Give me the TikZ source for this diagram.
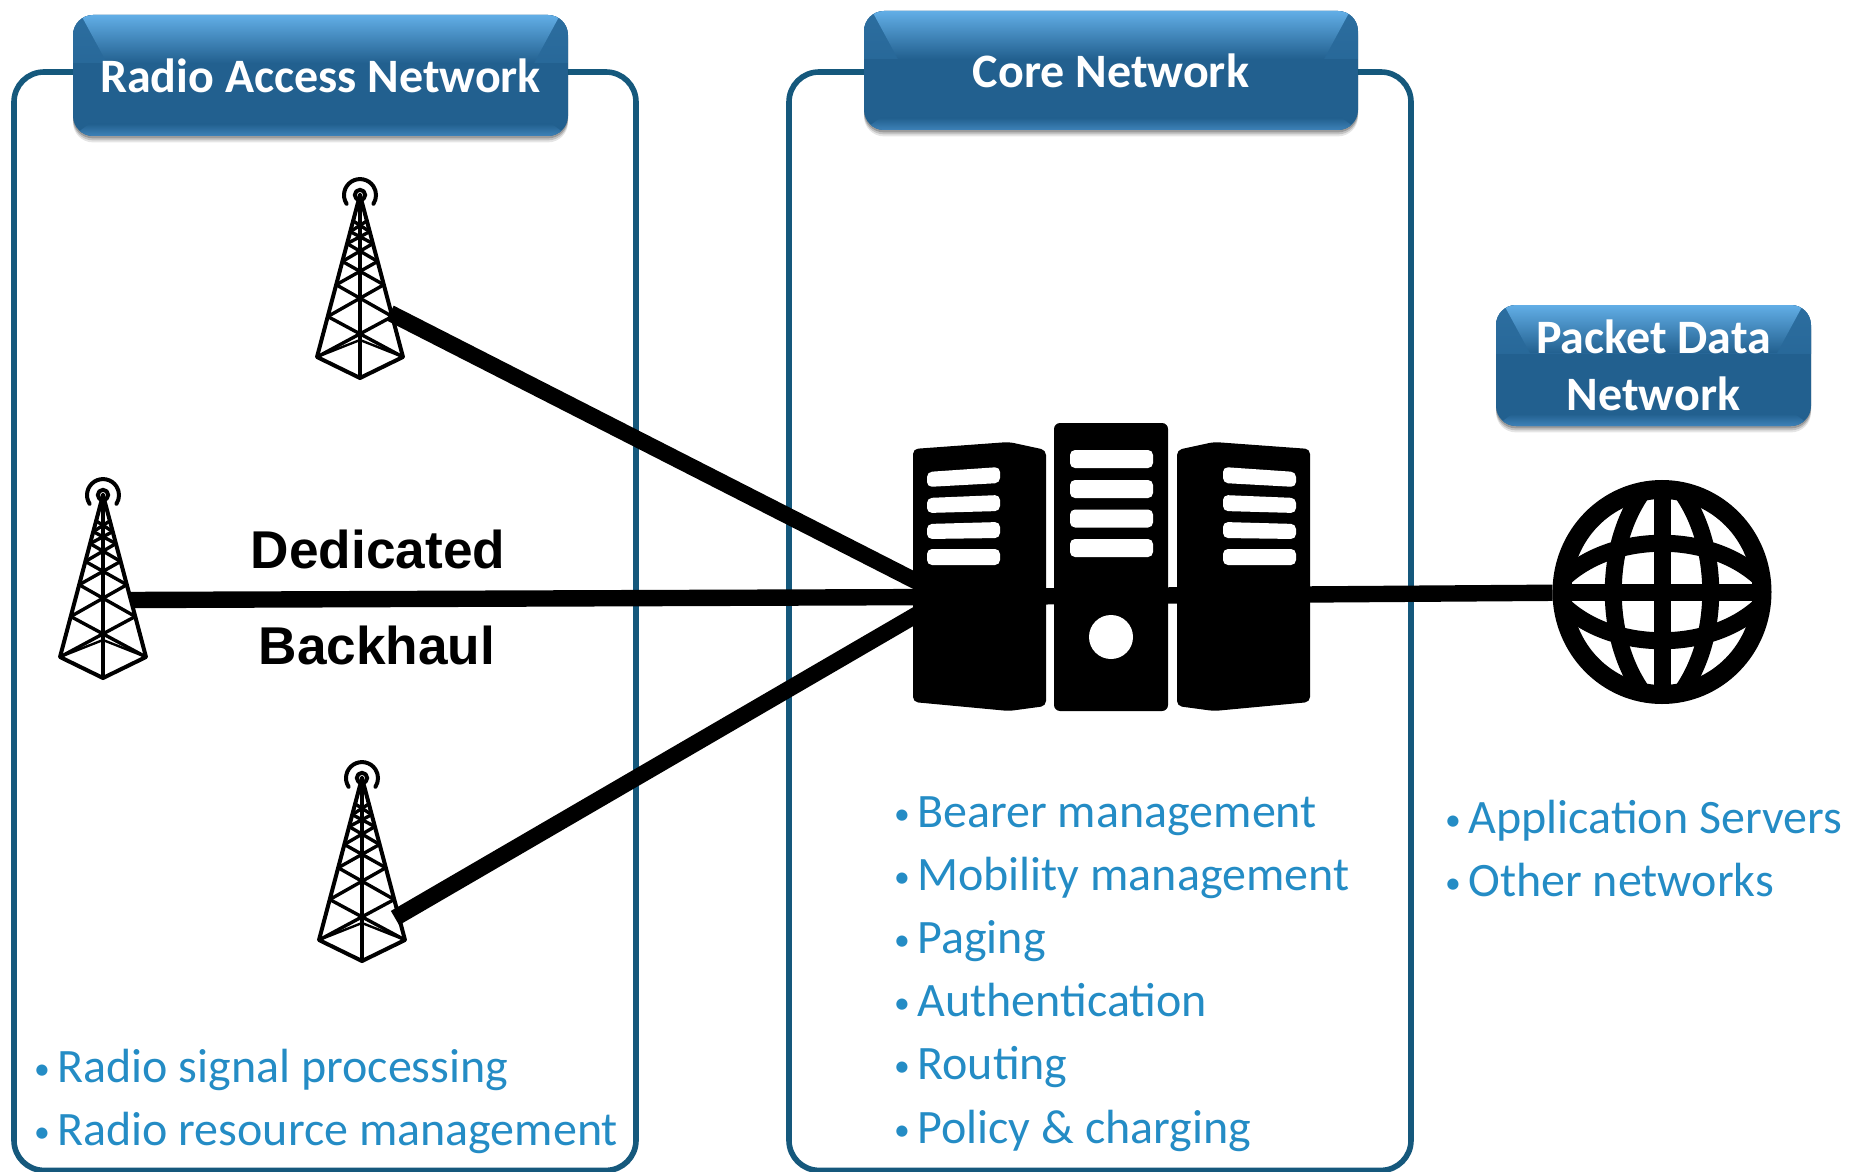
\documentclass[tikz,border=0pt]{standalone}
\usepackage{fontspec}
\setmainfont{Carlito}
\newfontfamily\labelfont{Liberation Sans}
\usetikzlibrary{shadows,positioning,shapes.geometric}
\definecolor{panelcol}{RGB}{21,88,124}
\definecolor{hdrbase}{RGB}{34,96,143}
\definecolor{hdredge}{RGB}{44,110,160}
\definecolor{hdrtop}{RGB}{98,174,230}
\definecolor{hdrlow}{RGB}{62,130,184}
\definecolor{itemcol}{RGB}{36,140,197}
\newcommand{\itembullet}{\llap{\raisebox{1.5pt}{\scalebox{.66}{\textbullet}}\hspace{3.8pt}}}
\tikzset{
  panel/.style={ draw=panelcol, line width=2.8pt, rounded corners=15pt, minimum width=#1, minimum height=549.2pt }
}
\tikzset{
  hdrbox/.style={ rounded corners=10pt, fill=hdrbase, text=white, align=center, inner sep=0pt,
    font=\bfseries\fontsize{24}{28.5}\selectfont,
    drop shadow={shadow xshift=0pt, shadow yshift=-3.2pt, opacity=.1, fill=black},
    drop shadow={shadow xshift=0pt, shadow yshift=-2.2pt, opacity=.15, fill=black},
    drop shadow={shadow xshift=0pt, shadow yshift=-1.2pt, opacity=.2, fill=black},
    path picture={
      \shade[sharp corners, top color=hdredge, bottom color=hdrbase]
        (path picture bounding box.north west) rectangle ([yshift=-24pt]path picture bounding box.north east);
      \shade[sharp corners, top color=hdrtop, bottom color=hdrbase]
        ([xshift=4pt]path picture bounding box.north west) -- ([xshift=-4pt]path picture bounding box.north east)
        -- ([xshift=-17pt, yshift=-24pt]path picture bounding box.north east)
        -- ([xshift=17pt, yshift=-24pt]path picture bounding box.north west) -- cycle;
      \shade[sharp corners, top color=hdrbase, bottom color=hdrlow]
        (path picture bounding box.south west) -- (path picture bounding box.south east)
        -- ([xshift=-8pt, yshift=6pt]path picture bounding box.south east)
        -- ([xshift=8pt, yshift=6pt]path picture bounding box.south west) -- cycle;
    } }
}
\tikzset{
  listitem/.style={ anchor=base west, inner sep=0pt, text=itemcol, font=\fontsize{24}{28}\selectfont }
}
\tikzset{
  linklabel/.style={ inner sep=0pt, font=\labelfont\bfseries\fontsize{26.6}{30}\selectfont }
}
\tikzset{
  link/.style={ line width=8.2pt, black }
}
\tikzset{
  towerline/.style={ draw=black, line width=2pt, line join=round, line cap=round }
}
\tikzset{
  srvbar/.style={ fill=white, rounded corners=2.5pt }
}
\tikzset{
  srvfill/.style={ fill=black, rounded corners=2.5pt }
}
\tikzset{
  tower/.pic={
    \draw[towerline] (0,0) circle (2.6pt);
    \draw[towerline] (-13.4,8.8) arc (213:-33:8pt);
    \draw[towerline] (0,0) -- (-43,162) -- (0,183) -- (43,162) -- cycle;
    \draw[towerline] (0,0) -- (0,183);
    \draw[towerline, line width=1.2pt] (-43,162) -- (0,145) -- (43,162);
    \foreach \a/\b in {1/.75,.75/.554,.554/.41,.41/.30,.30/.226,.226/.16}{
      \draw[towerline, line width=1.7pt] ({-43*\a},{162*\a}) -- ({43*\b},{162*\b});
      \draw[towerline, line width=1.7pt] ({43*\a},{162*\a}) -- ({-43*\b},{162*\b});
    }
  }
}
\tikzset{
  srvside/.pic={
    \fill[srvfill] (0,449) -- (96,442) -- (133,450) -- (133,706) -- (96,711) -- (0,702) -- cycle;
    \foreach \ya/\yb/\yc/\yd in {472/487/467/483,498/513/495/511,524/539/522/538,549/565/549/565}{
      \fill[srvbar] (14,\ya) -- (87,\yc) -- (87,\yd) -- (14,\yb) -- cycle;
    }
  }
}
\begin{document}
\begin{tikzpicture}[x=.5pt, y=-.5pt]
  \useasboundingbox (0,0) rectangle (1849,1172);

  \node[panel=311pt] (ranPanel) at (325,621.2) {};
  \node[panel=311pt] (corePanel) at (1100,621.2) {};

  \coordinate (srvHub) at (947,597);
  \coordinate (portA) at (390,313);
  \coordinate (portB) at (131,600);
  \coordinate (portC) at (395,918);
  \node[draw, ellipse, line width=9.5pt, fill=white, minimum width=100pt, minimum height=102.5pt, inner sep=0pt] (globe) at (1662,592) {};

  \draw[link] (portA) -- (srvHub);
  \draw[link] (portB) -- (srvHub);
  \draw[link] (portC) -- (srvHub);
  \draw[link] (srvHub) -- (globe);

  \pic at (360,195) {tower};
  \pic at (103,495) {tower};
  \pic at (362,778) {tower};

  \pic at (913,0) {srvside};
  \pic[xscale=-1] at (1310,0) {srvside};
  \node[fill=black, rounded corners=3pt, minimum width=57pt, minimum height=144pt, inner sep=0pt] (srvMid) at (1111,567) {};
  \foreach \y in {459,489,518.5,548}{
    \node[srvbar, minimum width=41.5pt, minimum height=9pt, inner sep=0pt] (srvBar\y) at (1111.5,\y) {};
  }
  \node[circle, fill=white, minimum size=22pt, inner sep=0pt] (srvDisk) at (1111,637) {};

  % globe grid
  \begin{scope}
    \clip (1662,592) ellipse (50pt and 51.25pt);
    \draw[line width=8.5pt] (1562,592) -- (1762,592);
    \draw[line width=8.5pt] (1662,492) -- (1662,692);
    \foreach \s in {-1,1}{
      \draw[line width=8.5pt] ({1662+\s*15},486) .. controls ({1662+\s*60},542) and ({1662+\s*60},642) .. ({1662+\s*15},698);
      \draw[line width=8.5pt] (1562,{592+\s*12}) .. controls (1612,{592+\s*61}) and (1712,{592+\s*61}) .. (1762,{592+\s*12});
    }
  \end{scope}

  \node[hdrbox, minimum width=247.5pt, minimum height=60.5pt] (ranHdr) at (320.5,75.5) {Radio Access Network};
  \node[hdrbox, minimum width=247pt, minimum height=59.5pt] (coreHdr) at (1111,70.5) {Core Network};
  \node[hdrbox, minimum width=157.5pt, minimum height=60.5pt] (pdnHdr) at (1653.5,365.5) {Packet Data\\Network};

  \node[linklabel] (dedLabel) at (378,549) {Dedicated};
  \node[linklabel] (bhLabel) at (377,645) {Backhaul};

  \foreach \txt [count=\i] in {Radio signal processing,Radio resource management}{
    \node[listitem] (ranItem\i) at (57,{1082+63*(\i-1)}) {\itembullet\txt};
  }
  \foreach \txt [count=\i] in {Bearer management,Mobility management,Paging,Authentication,Routing,Policy \& charging}{
    \node[listitem] (coreItem\i) at (917,{827+63.2*(\i-1)}) {\itembullet\txt};
  }
  \foreach \txt [count=\i] in {Application Servers,Other networks}{
    \node[listitem] (pdnItem\i) at (1468,{833+63*(\i-1)}) {\itembullet\txt};
  }
\end{tikzpicture}
\end{document}
